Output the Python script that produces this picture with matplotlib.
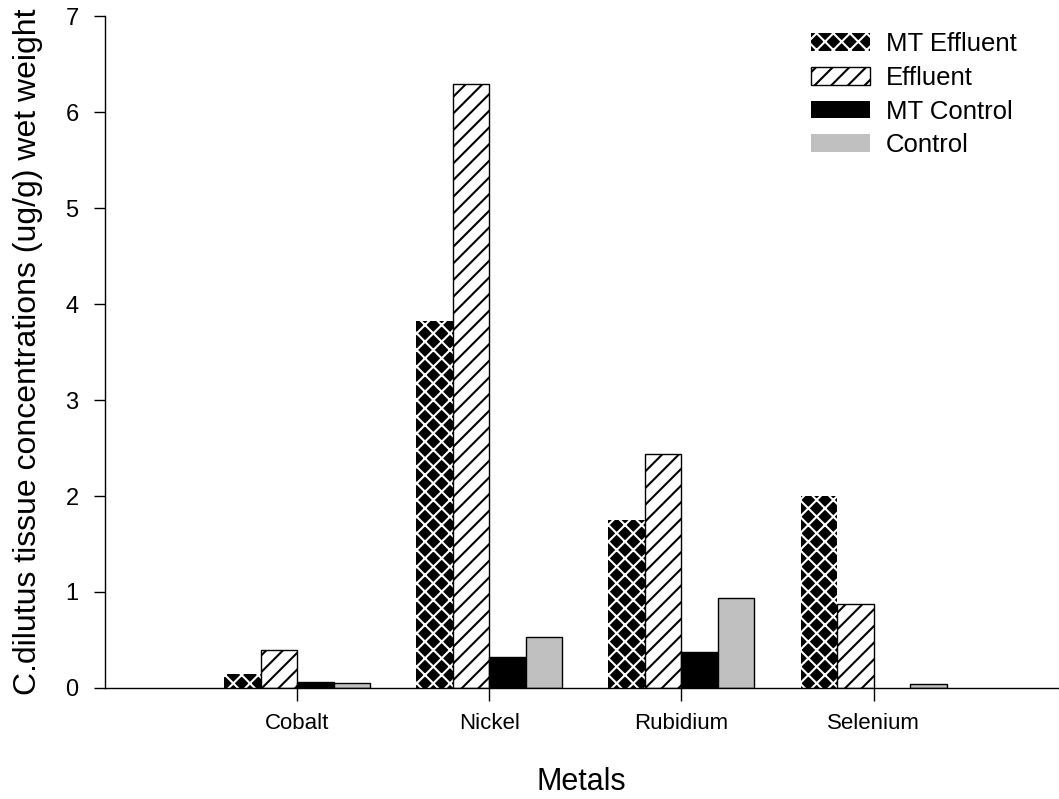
import matplotlib
matplotlib.use('Agg')
import matplotlib.pyplot as plt
import numpy as np

plt.rcParams.update({
    'font.family': ['Liberation Sans', 'DejaVu Sans'],
    'hatch.linewidth': 1.5,
})

metals = ['Cobalt', 'Nickel', 'Rubidium', 'Selenium']
mt_effluent = [0.15, 3.82, 1.75, 2.00]
effluent = [0.40, 6.29, 2.44, 0.87]
mt_control = [0.06, 0.32, 0.37, 0.0]
control = [0.05, 0.53, 0.94, 0.04]

series = [
    (mt_effluent, 'MT Effluent', dict(color='black', edgecolor='white', hatch='xx', linewidth=0)),
    (effluent, 'Effluent', dict(color='white', edgecolor='black', hatch='//', linewidth=1.0)),
    (mt_control, 'MT Control', dict(color='black', edgecolor='black', linewidth=1.0)),
    (control, 'Control', dict(color='#c0c0c0', edgecolor='black', linewidth=1.0)),
]

fig = plt.figure(figsize=(10.59, 7.99), dpi=100)
ax = fig.add_axes([105 / 1059, 1 - 688 / 799, (1058 - 105) / 1059, (688 - 16) / 799])

x = np.arange(1, len(metals) + 1)
w = 0.19
for i, (vals, label, style) in enumerate(series):
    pos = x + (i - 1.5) * w
    keep = [v > 0 for v in vals]
    ax.bar(pos[keep], np.array(vals)[keep], width=w, label=label, **style)

ax.set_xlim(0, 4.96)
ax.set_ylim(0, 7)
ax.set_yticks(range(0, 8))
ax.set_xticks(x)
ax.set_xticklabels(metals, fontsize=16)
ax.tick_params(axis='y', labelsize=17, length=8, width=1.0, pad=11)
ax.tick_params(axis='x', length=9, width=1.0, pad=9)
ax.spines['top'].set_visible(False)
ax.spines['right'].set_visible(False)
ax.spines['left'].set_linewidth(1.0)
ax.spines['bottom'].set_linewidth(1.0)

ax.set_xlabel('Metals', fontsize=22, labelpad=24)
ax.set_ylabel('C.dilutus tissue concentrations (ug/g) wet weight', fontsize=23, labelpad=16)

leg = ax.legend(loc='upper left', bbox_to_anchor=(811 / 1059, 1 - 32 / 799),
                bbox_transform=fig.transFigure, frameon=False, fontsize=18.5,
                borderpad=0, borderaxespad=0, handlelength=2.3, handleheight=0.68,
                handletextpad=0.6, labelspacing=0.38)
# solid legend keys are drawn without an outline
for txt, h in zip(leg.get_texts(), leg.legend_handles):
    if txt.get_text() in ('MT Control', 'Control'):
        h.set_linewidth(0)
        h.set_edgecolor(h.get_facecolor())

plt.savefig('out.png', dpi=100)
